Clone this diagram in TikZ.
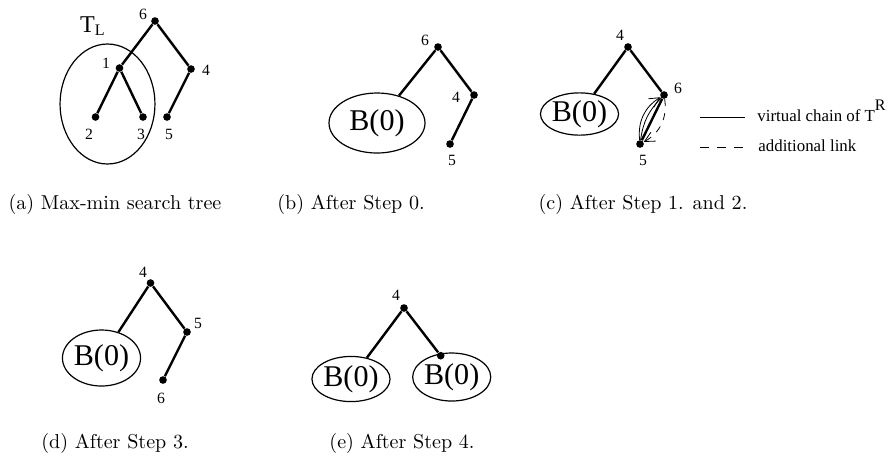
\documentclass[tikz,border=0pt]{standalone}
\usepackage{fontspec}
\usepackage{tikz}
\usetikzlibrary{arrows.meta,shapes.geometric}
\newfontfamily\tms{Liberation Serif}

\begin{document}
\begin{tikzpicture}[x=0.0175cm,y=-0.0175cm,
  dot/.style={circle,fill=black,inner sep=0pt,minimum size=3.8pt},
  edge/.style={line width=1.2pt},
  num/.style={font=\tms\fontsize{7.8}{9}\selectfont,inner sep=0pt},
  blob/.style={draw,ellipse,line width=0.6pt,inner sep=0pt,font=\tms\fontsize{15}{17}\selectfont},
  chain/.style={line width=0.4pt},
  barb/.style={-{Straight Barb[length=5pt,width=5pt]}},
  legtext/.style={anchor=base west,inner sep=0pt,font=\tms\fontsize{8.4}{10}\selectfont}]
\useasboundingbox (0,0) rectangle (891,469);

\node[dot] (a6) at (155,21) {};
\node[dot] (a1) at (119.5,68) {};
\node[dot] (a4) at (191,69) {};
\node[dot] (a2) at (95.5,117) {};
\node[dot] (a3) at (143,117) {};
\node[dot] (a5) at (167,117) {};
\node[num] (la6) at (143,14) {6};
\node[num] (la1) at (106,63) {1};
\node[num] (la4) at (206,70) {4};
\node[num] (la2) at (89,134) {2};
\node[num] (la3) at (141,134) {3};
\node[num] (la5) at (169,134) {5};
\node[draw,ellipse,line width=0.6pt,minimum width=1.66cm,minimum height=2.1cm] (tl) at (107.5,104) {};
\node[font=\tms\fontsize{12}{14}\selectfont] (tlname) at (93,26) {T\textsubscript{L}};
\draw[edge] (a6) -- (a1);
\draw[edge] (a6) -- (a4);
\draw[edge] (a1) -- (a2);
\draw[edge] (a1) -- (a3);
\draw[edge] (a4) -- (a5);
\node (capa) at (115,204) {(a) Max-min search tree};

\node[dot] (b6) at (438,47) {};
\node[dot] (b4) at (474,95) {};
\node[dot] (b5) at (450,144) {};
\node[num] (lb6) at (425,40) {6};
\node[num] (lb4) at (456,97) {4};
\node[num] (lb5) at (452,160) {5};
\node[blob,minimum width=1.68cm,minimum height=1.05cm] (bB) at (377,123) {B(0)};
\draw[edge] (b6) -- (bB);
\draw[edge] (b6) -- (b4);
\draw[edge] (b4) -- (b5);
\node (capb) at (351,204) {(b) After Step 0.};

\node[dot] (c4) at (628,47) {};
\node[dot] (c6) at (664,95) {};
\node[dot] (c5) at (640,144) {};
\node[num] (lc4) at (620,35) {4};
\node[num] (lc6) at (678,88) {6};
\node[num] (lc5) at (643,160) {5};
\node[blob,minimum width=1.28cm,minimum height=0.74cm] (cB) at (579.5,114) {B(0)};
\draw[edge] (c4) -- (cB);
\draw[edge] (c4) -- (c6);
\draw[edge] (c6) -- (c5);
\draw[chain,barb] (c5) to[bend left=32] (c6);
\draw[chain] (c5) to[bend left=18] (c6);
\draw[chain,barb,dash pattern=on 3.5pt off 3.5pt] (c6) to[bend left=35] (c5);
\coordinate (s1) at (700,117);
\coordinate (s2) at (745,117);
\coordinate (d1) at (700,147);
\coordinate (d2) at (745,147);
\draw[line width=0.5pt] (s1) -- (s2);
\draw[line width=0.5pt,dash pattern=on 4.5pt off 4pt] (d1) -- (d2);
\node[legtext] (leg1) at (757,121) {virtual chain of T\raisebox{0.6em}{\fontsize{8}{9}\selectfont R}};
\node[legtext] (leg2) at (758,151) {additional link};
\node (capc) at (643,204) {(c) After Step 1. and 2.};

\node[dot] (d4) at (150.5,283) {};
\node[dot] (d5) at (187,332) {};
\node[dot] (d6) at (163,380) {};
\node[num] (ld4) at (143,272) {4};
\node[num] (ld5) at (198,323) {5};
\node[num] (ld6) at (161,398) {6};
\node[blob,minimum width=1.28cm,minimum height=0.98cm] (dB) at (101.5,358) {B(0)};
\draw[edge] (d4) -- (dB);
\draw[edge] (d4) -- (d5);
\draw[edge] (d5) -- (d6);
\node (capd) at (115,443) {(d) After Step 3.};

\node[dot] (e4) at (404,308) {};
\node[num] (le4) at (396,295) {4};
\node[blob,minimum width=1.1cm,minimum height=0.79cm] (eL) at (351,379) {B(0)};
\node[blob,minimum width=1.28cm,minimum height=0.84cm] (eR) at (451.7,377) {B(0)};
\node[dot] (eT) at (440.7,355.7) {};
\draw[edge] (e4) -- (eL);
\draw[edge] (e4) -- (eT);
\node (cape) at (402,443) {(e) After Step 4.};
\end{tikzpicture}
\end{document}
